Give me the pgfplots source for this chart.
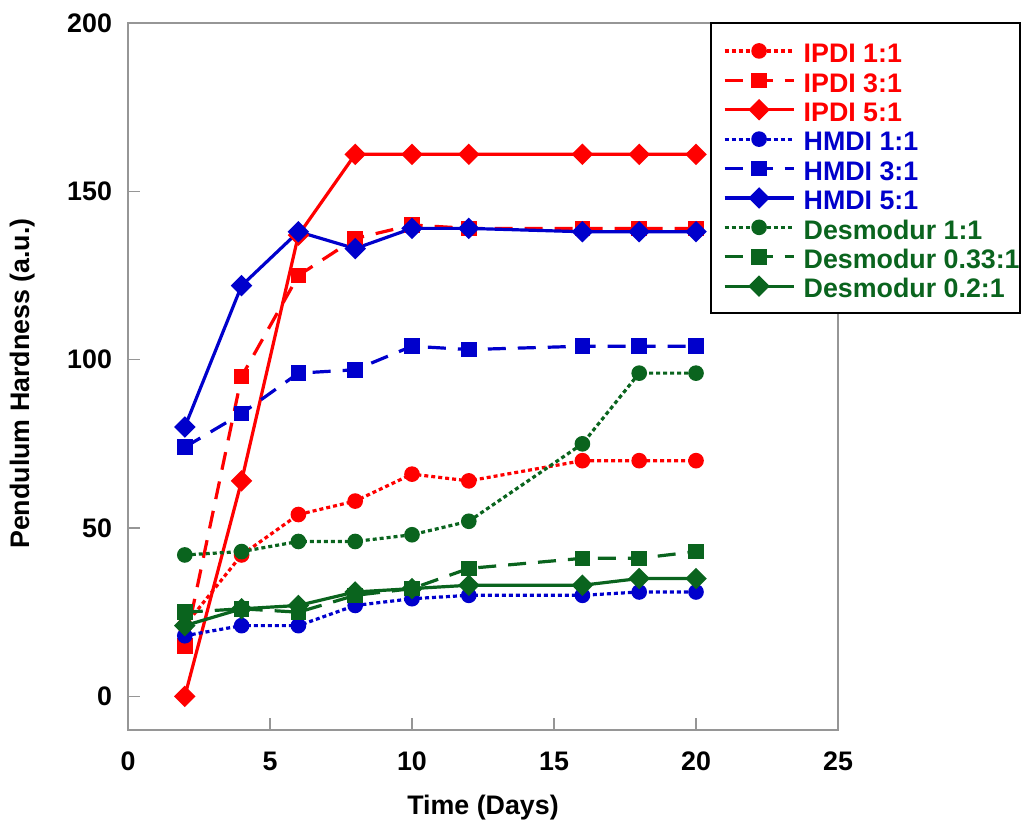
\documentclass[border=0pt]{standalone}
\usepackage{fontspec}
\setmainfont{Liberation Sans}
\usepackage{pgfplots}
\pgfplotsset{compat=1.18}

\definecolor{cred}{RGB}{255,0,0}
\definecolor{cblue}{RGB}{0,0,204}
\definecolor{cgreen}{RGB}{10,100,30}
\definecolor{axgray}{RGB}{150,150,150}

\newcommand{\fnt}{\fontsize{13.4}{15}\selectfont\bfseries}

\pgfplotsset{
  dotline/.style={line width=1.6pt, dash pattern=on 2pt off 1.5pt},
  dashline/.style={line width=1.6pt, dash pattern=on 9pt off 6pt},
  solidline/.style={line width=1.6pt, solid},
  circ/.style={mark=*, mark size=3.1pt, mark options={solid}},
  sqr/.style={mark=square*, mark size=3.1pt, mark options={solid}},
  dia/.style={mark=square*, mark size=3pt, mark options={solid, rotate=45}},
}

\begin{document}
\begin{tikzpicture}
\path[use as bounding box] (-64pt,-48pt) rectangle (446.5pt,365pt);
\begin{axis}[
  scale only axis,
  width=355pt, height=353.5pt,
  xmin=0, xmax=25, ymin=-10, ymax=200,
  xtick={0,5,...,25}, ytick={0,50,...,200},
  axis line style={axgray, line width=0.75pt},
  tick style={axgray, line width=0.75pt},
  major tick length=6pt,
  tick align=inside,
  xtick pos=bottom, ytick pos=left,
  /pgf/number format/assume math mode=true,
  tick label style={font=\fnt},
  xticklabel style={yshift=-7.5pt},
  yticklabel style={xshift=-4.5pt},
  label style={font=\fnt},
  xlabel={Time (Days)},
  ylabel={Pendulum Hardness (a.u.)},
  xlabel style={at={(axis description cs:0.5,-0.11)}, anchor=center},
  ylabel style={at={(axis description cs:-0.149,0.49)}, anchor=center},
  clip=false,
  legend cell align=left,
  legend style={
    at={(axis description cs:0.8197,1.0014)}, anchor=north west,
    draw=black, line width=1pt, fill=white,
    font=\fnt,
    inner xsep=0pt, inner ysep=6.4pt,
    column sep=4pt,
    nodes={inner xsep=0.25pt, inner ysep=0pt, text height=13.4pt, text depth=1.3pt},
  },
  legend image code/.code={
    \path (0pt,-0.2pt);
    \draw[mark repeat=2, mark phase=2, #1] plot coordinates {(6pt,-0.2pt) (23.25pt,-0.2pt) (40.5pt,-0.2pt)};
  },
]
\addplot[color=cred, dotline, circ] coordinates {
  (2,21) (4,42) (6,54) (8,58) (10,66) (12,64) (16,70) (18,70) (20,70)};
\addlegendentry{\textcolor{cred}{IPDI 1:1}}
\addplot[color=cred, dashline, sqr] coordinates {
  (2,15) (4,95) (6,125) (8,136) (10,140) (12,139) (16,139) (18,139) (20,139)};
\addlegendentry{\textcolor{cred}{IPDI 3:1}}
\addplot[color=cred, solidline, dia] coordinates {
  (2,0) (4,64) (6,137) (8,161) (10,161) (12,161) (16,161) (18,161) (20,161)};
\addlegendentry{\textcolor{cred}{IPDI 5:1}}
\addplot[color=cblue, dotline, circ] coordinates {
  (2,18) (4,21) (6,21) (8,27) (10,29) (12,30) (16,30) (18,31) (20,31)};
\addlegendentry{\textcolor{cblue}{HMDI 1:1}}
\addplot[color=cblue, dashline, sqr] coordinates {
  (2,74) (4,84) (6,96) (8,97) (10,104) (12,103) (16,104) (18,104) (20,104)};
\addlegendentry{\textcolor{cblue}{HMDI 3:1}}
\addplot[color=cblue, solidline, dia] coordinates {
  (2,80) (4,122) (6,138) (8,133) (10,139) (12,139) (16,138) (18,138) (20,138)};
\addlegendentry{\textcolor{cblue}{HMDI 5:1}}
\addplot[color=cgreen, dotline, circ] coordinates {
  (2,42) (4,43) (6,46) (8,46) (10,48) (12,52) (16,75) (18,96) (20,96)};
\addlegendentry{\textcolor{cgreen}{Desmodur 1:1}}
\addplot[color=cgreen, dashline, sqr] coordinates {
  (2,25) (4,26) (6,25) (8,30) (10,32) (12,38) (16,41) (18,41) (20,43)};
\addlegendentry{\textcolor{cgreen}{Desmodur 0.33:1}}
\addplot[color=cgreen, solidline, dia] coordinates {
  (2,21) (4,26) (6,27) (8,31) (10,32) (12,33) (16,33) (18,35) (20,35)};
\addlegendentry{\textcolor{cgreen}{Desmodur 0.2:1}}
\end{axis}
\end{tikzpicture}
\end{document}
